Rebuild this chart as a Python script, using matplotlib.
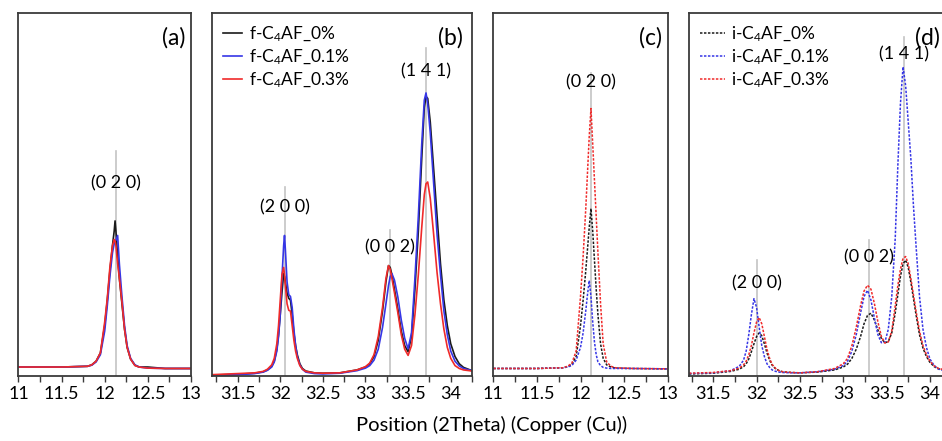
import matplotlib
matplotlib.use("Agg")
import matplotlib.pyplot as plt
from matplotlib.ticker import MultipleLocator, FormatStrFormatter

plt.rcParams['font.family'] = ['Lato', 'DejaVu Sans']
plt.rcParams['mathtext.fontset'] = 'custom'
plt.rcParams['mathtext.rm'] = 'Lato'
plt.rcParams['mathtext.it'] = 'Lato'

# ---- (a) / (c): (0 2 0) reflection, 11-13 deg ----
x_low_f = [11.0, 11.5, 11.8, 11.85, 11.9, 11.95, 12.0, 12.03, 12.06, 12.09, 12.11, 12.12,
           12.13, 12.15, 12.17, 12.2, 12.23, 12.26, 12.3, 12.35, 12.4, 12.5, 12.7, 13.0]
f_0 = [2.6, 2.6, 2.8, 3.2, 4.2, 6.5, 14.0, 21.0, 29.0, 36.0, 40.0, 42.8,
       40.0, 33.0, 27.0, 20.0, 13.0, 8.0, 4.8, 3.1, 2.6, 2.6, 2.2, 2.2]
f_01 = [2.6, 2.6, 2.8, 3.1, 4.0, 6.0, 12.5, 19.5, 27.5, 34.0, 36.5, 37.2,
        37.5, 38.8, 31.0, 22.0, 14.0, 8.5, 5.0, 3.2, 2.6, 2.3, 2.2, 2.2]
f_03 = [2.6, 2.6, 2.8, 3.2, 4.2, 6.5, 15.0, 21.5, 30.0, 36.0, 37.7, 37.3,
        36.0, 31.0, 27.0, 20.5, 13.0, 8.0, 4.8, 3.0, 2.6, 2.3, 2.2, 2.2]

x_low_i = [11.0, 11.5, 11.8, 11.85, 11.9, 11.95, 12.0, 12.03, 12.06, 12.08, 12.1, 12.12,
           12.14, 12.16, 12.18, 12.2, 12.23, 12.26, 12.3, 12.35, 12.4, 12.6, 13.0]
i_0 = [2.2, 2.2, 2.4, 2.7, 3.3, 5.5, 14.0, 21.0, 29.0, 35.0, 41.0, 46.2,
       40.0, 32.0, 24.0, 17.0, 9.0, 5.0, 3.2, 2.6, 2.3, 2.2, 2.1]
i_01 = [2.2, 2.2, 2.4, 2.6, 3.0, 4.5, 8.0, 12.0, 18.0, 22.5, 26.4, 22.0,
        15.0, 9.5, 6.0, 4.0, 3.0, 2.5, 2.3, 2.2, 2.2, 2.2, 2.1]
i_03 = [2.2, 2.2, 2.4, 2.8, 3.6, 7.0, 22.0, 33.0, 46.0, 56.0, 66.0, 73.7,
        64.0, 54.0, 44.0, 34.0, 20.0, 9.0, 4.0, 2.8, 2.4, 2.2, 2.1]

# ---- (b): f-C4AF, 31.2-34.25 deg ----
x_high_f = [31.2, 31.5, 31.7, 31.8, 31.85, 31.9, 31.93, 31.96, 31.98, 32.0, 32.02, 32.04,
            32.05, 32.06, 32.08, 32.1, 32.12, 32.14, 32.16, 32.18, 32.2, 32.23, 32.26, 32.3,
            32.4, 32.5, 32.7, 32.9, 33.0, 33.05, 33.1, 33.15, 33.2, 33.24, 33.27, 33.29,
            33.31, 33.34, 33.38, 33.42, 33.46, 33.5, 33.54, 33.58, 33.62, 33.66, 33.69, 33.71,
            33.73, 33.76, 33.8, 33.84, 33.88, 33.92, 33.96, 34.0, 34.05, 34.1, 34.15, 34.25]
fb_0 = [0.4, 0.6, 0.9, 1.3, 1.8, 2.8, 4.2, 7.5, 11.5, 17.0, 23.0, 28.3,
        27.5, 26.0, 23.0, 21.5, 21.0, 17.0, 12.0, 8.5, 6.0, 3.5, 2.2, 1.5,
        1.0, 0.9, 1.0, 1.8, 2.6, 3.5, 5.5, 10.0, 18.0, 26.0, 30.5, 30.0,
        28.0, 24.0, 18.5, 12.5, 8.5, 6.8, 11.0, 24.0, 40.0, 60.0, 74.0, 77.0,
        76.5, 70.0, 57.0, 44.0, 31.0, 21.0, 14.0, 9.0, 5.5, 3.5, 2.5, 1.6]
fb_01 = [0.3, 0.5, 0.8, 1.2, 1.7, 2.6, 4.0, 7.0, 11.0, 17.0, 27.0, 36.0,
         38.8, 35.0, 26.0, 22.5, 22.0, 19.0, 13.0, 8.5, 5.5, 3.2, 2.0, 1.2,
         0.8, 0.7, 0.9, 1.6, 2.3, 3.0, 4.5, 7.5, 13.5, 20.0, 25.0, 27.5,
         28.3, 26.5, 21.8, 15.5, 10.5, 7.6, 12.0, 27.0, 44.0, 64.0, 76.0, 78.0,
         75.0, 67.0, 53.0, 39.0, 28.0, 18.0, 11.5, 7.0, 4.2, 2.9, 2.2, 1.6]
fb_03 = [0.5, 0.8, 1.0, 1.4, 2.0, 3.2, 5.0, 9.0, 14.0, 21.0, 28.0, 30.0,
         28.0, 25.0, 20.0, 18.2, 18.0, 14.0, 10.0, 7.0, 5.0, 3.0, 2.0, 1.4,
         1.0, 0.9, 1.0, 1.8, 2.7, 3.7, 6.0, 11.0, 19.0, 27.0, 30.5, 29.5,
         27.0, 23.0, 17.5, 11.5, 7.5, 5.8, 8.5, 17.0, 28.0, 41.0, 50.0, 53.0,
         53.5, 49.0, 39.0, 28.5, 20.0, 13.0, 8.0, 5.0, 3.0, 2.2, 1.8, 1.5]

# ---- (d): i-C4AF, 31.22-34.22 deg ----
x_high_i = [31.22, 31.5, 31.7, 31.8, 31.85, 31.88, 31.91, 31.94, 31.97, 32.0, 32.03, 32.06,
            32.09, 32.12, 32.15, 32.18, 32.22, 32.26, 32.3, 32.4, 32.5, 32.7, 32.9, 33.0,
            33.05, 33.1, 33.15, 33.2, 33.24, 33.28, 33.32, 33.36, 33.4, 33.44, 33.48, 33.52,
            33.56, 33.6, 33.63, 33.66, 33.69, 33.72, 33.75, 33.78, 33.81, 33.84, 33.88, 33.92,
            33.96, 34.0, 34.05, 34.1, 34.22]
ib_0 = [0.7, 0.9, 1.4, 2.0, 2.7, 3.5, 4.8, 6.8, 9.0, 11.0, 12.0, 11.2,
        9.0, 6.5, 4.5, 3.1, 2.1, 1.6, 1.3, 1.1, 1.0, 1.2, 1.8, 2.6,
        3.4, 5.0, 7.5, 11.0, 14.5, 16.8, 17.4, 15.5, 12.8, 10.5, 9.3, 9.6,
        12.0, 17.5, 22.5, 27.5, 31.0, 32.0, 30.0, 26.0, 21.5, 17.0, 11.5, 7.8,
        5.5, 3.9, 2.7, 2.1, 1.5]
ib_01 = [0.8, 1.0, 1.6, 2.8, 4.5, 7.0, 11.5, 17.0, 21.4, 19.0, 13.5, 8.5,
         5.5, 3.5, 2.5, 1.8, 1.4, 1.2, 1.1, 1.0, 1.0, 1.3, 2.0, 3.0,
         4.2, 7.0, 11.5, 17.5, 22.0, 23.7, 21.0, 16.0, 11.5, 9.3, 9.4, 13.0,
         22.0, 38.0, 58.0, 75.0, 85.2, 80.0, 70.0, 60.0, 47.0, 36.0, 22.0, 13.0,
         8.0, 4.8, 3.0, 2.0, 1.4]
ib_03 = [0.9, 1.1, 1.6, 2.3, 3.2, 4.2, 6.0, 8.5, 12.0, 15.0, 16.2, 14.5,
         11.0, 7.5, 5.0, 3.3, 2.2, 1.6, 1.3, 1.1, 1.0, 1.3, 2.2, 3.5,
         5.0, 8.5, 13.5, 19.5, 23.5, 25.1, 24.0, 20.0, 15.0, 11.0, 9.2, 9.5,
         12.5, 19.5, 25.0, 29.5, 32.5, 33.0, 31.0, 27.0, 22.5, 18.0, 12.5, 8.5,
         6.0, 4.2, 2.9, 2.2, 1.6]

labels_f = ['f-C$_4$AF_0%', 'f-C$_4$AF_0.1%', 'f-C$_4$AF_0.3%']
labels_i = ['i-C$_4$AF_0%', 'i-C$_4$AF_0.1%', 'i-C$_4$AF_0.3%']

# reference positions: (2theta, line top, label height, hkl)
peaks_a = [(12.13, 62.0, 53.0, '(0 2 0)')]
peaks_b = [(32.06, 52.0, 46.6, '(2 0 0)'), (33.29, 40.4, 35.6, '(0 0 2)'),
           (33.71, 90.3, 83.8, '(1 4 1)')]
peaks_c = [(12.12, 83.5, 81.0, '(0 2 0)')]
peaks_d = [(32.0, 32.0, 25.7, '(2 0 0)'), (33.30, 37.6, 32.9, '(0 0 2)'),
           (33.70, 93.3, 88.7, '(1 4 1)')]

colors = ['#1a1a1a', '#3636e6', '#f02a2a']
spine_col = '#3a3a3a'

fig = plt.figure(figsize=(9.42, 4.41), dpi=100)
bottom, height = 0.1463, 0.8243
ax_a = fig.add_axes([0.0196, bottom, 0.1831, height])
ax_b = fig.add_axes([0.2251, bottom, 0.2760, height])
ax_c = fig.add_axes([0.5237, bottom, 0.1851, height])
ax_d = fig.add_axes([0.7314, bottom, 0.2760, height])


def style(ax, xlim, tag):
    ax.set_xlim(*xlim)
    ax.set_ylim(0, 100)
    ax.set_yticks([])
    ax.xaxis.set_major_locator(MultipleLocator(0.5))
    ax.xaxis.set_minor_locator(MultipleLocator(0.25))
    ax.xaxis.set_major_formatter(FormatStrFormatter('%g'))
    ax.tick_params(axis='x', which='both', direction='out', length=4, width=1,
                   color=spine_col, labelsize=13, pad=3)
    for s in ax.spines.values():
        s.set_color(spine_col)
        s.set_linewidth(1.3)
    ax.text(0.965, 0.96, tag, transform=ax.transAxes, ha='right', va='top', fontsize=16.5)


def peak_marks(ax, peaks):
    for pos, top, ylab, hkl in peaks:
        ax.plot([pos, pos], [0, top], color='#c4c4c4', lw=1.2, zorder=1)
        ax.text(pos, ylab, hkl, ha='center', va='center', fontsize=13, zorder=3)


style(ax_a, (11, 13), '(a)')
peak_marks(ax_a, peaks_a)
for y, c in zip([f_0, f_01, f_03], colors):
    ax_a.plot(x_low_f, y, color=c, lw=1.2, zorder=2)

style(ax_b, (31.2, 34.25), '(b)')
peak_marks(ax_b, peaks_b)
for y, c, lab in zip([fb_0, fb_01, fb_03], colors, labels_f):
    ax_b.plot(x_high_f, y, color=c, lw=1.2, label=lab, zorder=2)
ax_b.legend(loc='upper left', frameon=False, fontsize=12.5, handlelength=1.1,
            handletextpad=0.35, labelspacing=0.22, borderaxespad=0.25,
            bbox_to_anchor=(0.0, 1.0))

dash = (0, (1.6, 1.0))
style(ax_c, (11, 13), '(c)')
peak_marks(ax_c, peaks_c)
for y, c in zip([i_0, i_01, i_03], colors):
    ax_c.plot(x_low_i, y, color=c, lw=1.1, linestyle=dash, zorder=2)

style(ax_d, (31.22, 34.22), '(d)')
peak_marks(ax_d, peaks_d)
for y, c, lab in zip([ib_0, ib_01, ib_03], colors, labels_i):
    ax_d.plot(x_high_i, y, color=c, lw=1.1, linestyle=dash, label=lab, zorder=2)
ax_d.legend(loc='upper left', frameon=False, fontsize=12.5, handlelength=1.4,
            handletextpad=0.35, labelspacing=0.22, borderaxespad=0.25,
            bbox_to_anchor=(0.0, 1.0))

fig.text(0.522, 0.036, 'Position (2Theta) (Copper (Cu))', ha='center', va='center',
         fontsize=14.5)

fig.savefig('out.png', dpi=100)
